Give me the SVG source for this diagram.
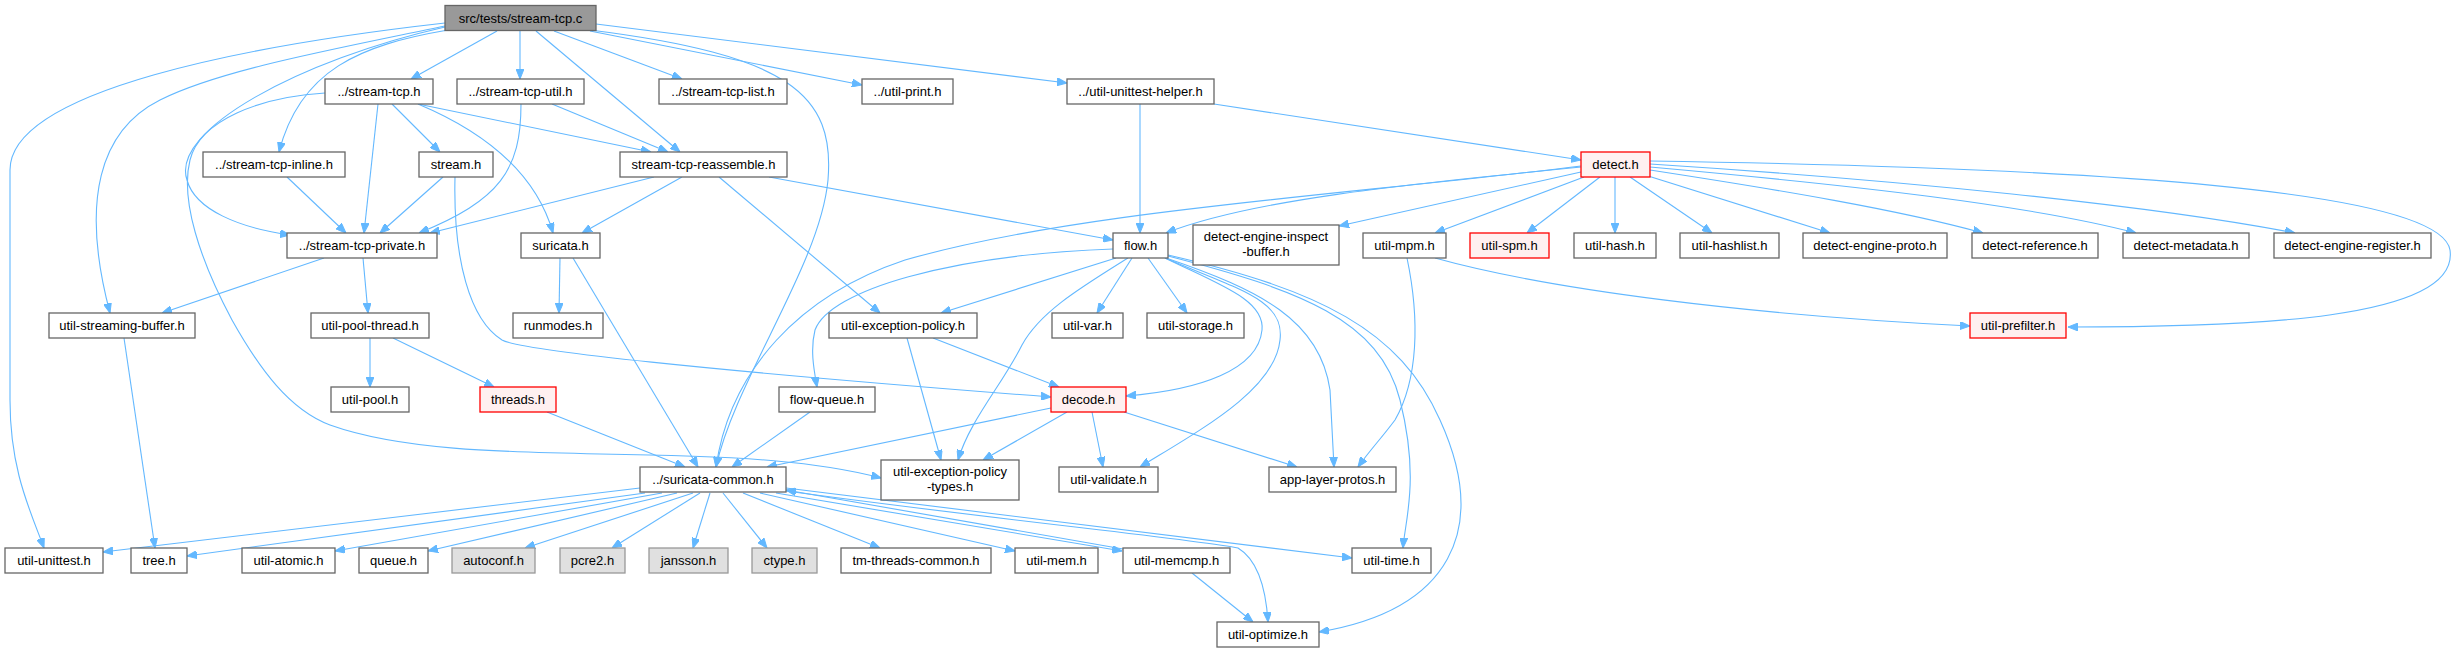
<svg xmlns="http://www.w3.org/2000/svg" width="2458" height="652" viewBox="0 0 2458 652">
<style>
.n rect{fill:#ffffff;stroke:#666666;stroke-width:1.3}
.n.root rect{fill:#999999;stroke:#666666}
.n.ext rect{fill:#e0e0e0;stroke:#999999}
.n.red rect{fill:#fff0f0;stroke:#ff0000}
.n text{font-family:"Liberation Sans",Arial,sans-serif;font-size:13px;fill:#000000;text-anchor:middle}
#edges path{fill:none;stroke:#63b8ff;stroke-width:1.1;marker-end:url(#ah)}
</style>
<defs>
<marker id="ah" markerUnits="userSpaceOnUse" viewBox="0 0 10 8" refX="10" refY="4" markerWidth="10" markerHeight="8" orient="auto">
<path d="M0,0 L10,4 L0,8 z" fill="#63b8ff" stroke="#63b8ff"/>
</marker>
</defs>
<rect width="2458" height="652" fill="#ffffff"/>
<g id="edges">
<!-- root -->
<path d="M497,31 L411,79"/>
<path d="M520,31 L520,79"/>
<path d="M554,31 L682,79"/>
<path d="M590,31 L862,85"/>
<path d="M596,24 L1067,83"/>
<path d="M536,31 L680,152"/>
<path d="M448,30 C360,45 300,70 279,152"/>
<path d="M445,27 C300,60 170,130 187,180 C195,210 240,228 290,235"/>
<path d="M445,26 C330,50 220,70 160,100 C100,130 80,200 110,313"/>
<path d="M445,23 C250,45 10,90 10,170 L10,400 C10,470 30,510 44,548"/>
<path d="M590,30 C790,55 835,95 828,180 C820,265 735,380 716,467"/>
<!-- stream-tcp.h -->
<path d="M392,104 L440,152"/>
<path d="M378,104 L364,233"/>
<path d="M418,104 L651,152"/>
<path d="M418,104 C480,130 535,170 553,233"/>
<path d="M325,93 C260,97 200,120 190,160 C180,200 200,260 232,320 C260,370 290,410 330,425 C400,450 500,452 600,454 C750,456 820,462 881,478"/>
<!-- stream-tcp-util.h -->
<path d="M552,104 L668,152"/>
<path d="M521,104 C521,170 500,200 419,233"/>
<!-- util-unittest-helper.h -->
<path d="M1140,104 L1140,233"/>
<path d="M1214,104 L1581,160"/>
<!-- inline / stream -->
<path d="M287,177 L346,233"/>
<path d="M443,177 L380,233"/>
<path d="M455,177 C453,260 470,320 502,340 C520,350 700,370 1051,397"/>
<!-- reassemble -->
<path d="M654,177 L430,233"/>
<path d="M682,177 L582,233"/>
<path d="M769,177 L1113,240"/>
<path d="M719,177 L880,313"/>
<!-- suricata.h -->
<path d="M560,258 L559,313"/>
<path d="M573,258 L698,467"/>
<!-- private -->
<path d="M324,258 L162,313"/>
<path d="M363,258 L368,313"/>
<!-- streaming buffer -->
<path d="M124,338 L155,548"/>
<!-- pool thread -->
<path d="M370,338 L370,387"/>
<path d="M393,338 L494,387"/>
<!-- threads -->
<path d="M547,412 L685,467"/>
<!-- flow-queue -->
<path d="M810,412 L732,467"/>
<!-- suricata-common -->
<path d="M640,488 C500,505 200,540 103,552"/>
<path d="M645,493 L187,556"/>
<path d="M662,493 L335,551"/>
<path d="M677,493 L428,551"/>
<path d="M693,493 L525,548"/>
<path d="M700,493 L612,548"/>
<path d="M710,493 L693,548"/>
<path d="M723,493 L767,548"/>
<path d="M743,493 L880,548"/>
<path d="M760,493 L1015,551"/>
<path d="M776,493 L1122,551"/>
<path d="M1123,549 L786,490"/>
<path d="M786,488 L1352,558"/>
<path d="M786,491 C1000,520 1200,540 1238,548 C1258,560 1266,590 1268,622"/>
<!-- memcmp -->
<path d="M1192,573 L1253,622"/>
<!-- decode -->
<path d="M1051,408 L767,467"/>
<path d="M1067,412 L983,460"/>
<path d="M1092,412 L1103,467"/>
<path d="M1124,412 L1297,467"/>
<!-- exception policy -->
<path d="M933,338 L1059,387"/>
<path d="M907,338 L941,460"/>
<!-- flow.h -->
<path d="M1116,258 L941,313"/>
<path d="M1132,258 L1097,313"/>
<path d="M1148,258 L1187,313"/>
<path d="M1113,249 C950,255 830,290 815,330 C810,350 814,370 817,387"/>
<path d="M1165,258 C1220,285 1265,300 1262,330 C1258,370 1200,390 1126,396"/>
<path d="M1128,258 C1080,288 1040,312 1022,345 C1002,385 970,420 958,460"/>
<path d="M1165,258 C1240,290 1285,300 1280,340 C1275,390 1200,430 1140,467"/>
<path d="M1166,258 C1260,290 1320,320 1330,390 L1334,467"/>
<path d="M1168,256 C1300,290 1380,320 1400,400 C1420,480 1405,520 1403,548"/>
<path d="M1168,255 C1320,290 1400,330 1440,420 C1490,530 1450,610 1319,632"/>
<!-- detect.h -->
<path d="M1581,166 C1350,195 1080,210 905,260 C800,295 730,370 716,467"/>
<path d="M1581,167 C1400,185 1250,200 1166,233"/>
<path d="M1581,172 L1339,226"/>
<path d="M1584,177 L1435,233"/>
<path d="M1600,177 L1527,233"/>
<path d="M1615,177 L1615,233"/>
<path d="M1630,177 L1712,233"/>
<path d="M1645,175 L1830,233"/>
<path d="M1650,170 C1780,190 1900,210 1983,233"/>
<path d="M1650,167 C1850,185 2030,205 2136,233"/>
<path d="M1650,164 C1900,180 2150,205 2295,233"/>
<path d="M1650,161 C2100,168 2440,190 2450,250 C2460,320 2250,327 2068,327"/>
<!-- util-mpm.h -->
<path d="M1435,258 C1550,290 1750,315 1970,326"/>
<path d="M1407,258 C1420,320 1418,380 1395,420 C1380,440 1370,450 1358,467"/>
</g>
<g id="n_root" class="n root"><rect x="445" y="5.5" width="151" height="25"/><text x="520.5" y="22.5">src/tests/stream-tcp.c</text></g>
<g id="n_stream_tcp" class="n"><rect x="325" y="79" width="108" height="25"/><text x="379" y="96">../stream-tcp.h</text></g>
<g id="n_stream_tcp_util" class="n"><rect x="457" y="79" width="127" height="25"/><text x="520.5" y="96">../stream-tcp-util.h</text></g>
<g id="n_stream_tcp_list" class="n"><rect x="659" y="79" width="128" height="25"/><text x="723" y="96">../stream-tcp-list.h</text></g>
<g id="n_util_print" class="n"><rect x="862" y="79" width="91" height="25"/><text x="907.5" y="96">../util-print.h</text></g>
<g id="n_unittest_helper" class="n"><rect x="1067" y="79" width="147" height="25"/><text x="1140.5" y="96">../util-unittest-helper.h</text></g>
<g id="n_inline" class="n"><rect x="203" y="152" width="142" height="25"/><text x="274" y="169">../stream-tcp-inline.h</text></g>
<g id="n_stream" class="n"><rect x="419" y="152" width="74" height="25"/><text x="456" y="169">stream.h</text></g>
<g id="n_reassemble" class="n"><rect x="620" y="152" width="167" height="25"/><text x="703.5" y="169">stream-tcp-reassemble.h</text></g>
<g id="n_detect" class="n red"><rect x="1581" y="152" width="69" height="25"/><text x="1615.5" y="169">detect.h</text></g>
<g id="n_private" class="n"><rect x="287" y="233" width="150" height="25"/><text x="362" y="250">../stream-tcp-private.h</text></g>
<g id="n_suricata" class="n"><rect x="521" y="233" width="79" height="25"/><text x="560.5" y="250">suricata.h</text></g>
<g id="n_flow" class="n"><rect x="1113" y="233" width="55" height="25"/><text x="1140.5" y="250">flow.h</text></g>
<g id="n_inspect" class="n"><rect x="1193" y="225" width="146" height="40"/><text x="1266" y="241">detect-engine-inspect</text><text x="1266" y="256">-buffer.h</text></g>
<g id="n_mpm" class="n"><rect x="1363" y="233" width="83" height="25"/><text x="1404.5" y="250">util-mpm.h</text></g>
<g id="n_spm" class="n red"><rect x="1470" y="233" width="79" height="25"/><text x="1509.5" y="250">util-spm.h</text></g>
<g id="n_hash" class="n"><rect x="1574" y="233" width="82" height="25"/><text x="1615" y="250">util-hash.h</text></g>
<g id="n_hashlist" class="n"><rect x="1680" y="233" width="99" height="25"/><text x="1729.5" y="250">util-hashlist.h</text></g>
<g id="n_engine_proto" class="n"><rect x="1803" y="233" width="144" height="25"/><text x="1875" y="250">detect-engine-proto.h</text></g>
<g id="n_reference" class="n"><rect x="1972" y="233" width="126" height="25"/><text x="2035" y="250">detect-reference.h</text></g>
<g id="n_metadata" class="n"><rect x="2123" y="233" width="126" height="25"/><text x="2186" y="250">detect-metadata.h</text></g>
<g id="n_register" class="n"><rect x="2274" y="233" width="157" height="25"/><text x="2352.5" y="250">detect-engine-register.h</text></g>
<g id="n_streaming_buffer" class="n"><rect x="49" y="313" width="146" height="25"/><text x="122" y="330">util-streaming-buffer.h</text></g>
<g id="n_pool_thread" class="n"><rect x="311" y="313" width="118" height="25"/><text x="370" y="330">util-pool-thread.h</text></g>
<g id="n_runmodes" class="n"><rect x="513" y="313" width="90" height="25"/><text x="558" y="330">runmodes.h</text></g>
<g id="n_exc_policy" class="n"><rect x="829" y="313" width="148" height="25"/><text x="903" y="330">util-exception-policy.h</text></g>
<g id="n_var" class="n"><rect x="1052" y="313" width="71" height="25"/><text x="1087.5" y="330">util-var.h</text></g>
<g id="n_storage" class="n"><rect x="1147" y="313" width="97" height="25"/><text x="1195.5" y="330">util-storage.h</text></g>
<g id="n_prefilter" class="n red"><rect x="1970" y="313" width="96" height="25"/><text x="2018" y="330">util-prefilter.h</text></g>
<g id="n_pool" class="n"><rect x="331" y="387" width="78" height="25"/><text x="370" y="404">util-pool.h</text></g>
<g id="n_threads" class="n red"><rect x="480" y="387" width="76" height="25"/><text x="518" y="404">threads.h</text></g>
<g id="n_flow_queue" class="n"><rect x="779" y="387" width="96" height="25"/><text x="827" y="404">flow-queue.h</text></g>
<g id="n_decode" class="n red"><rect x="1051" y="387" width="75" height="25"/><text x="1088.5" y="404">decode.h</text></g>
<g id="n_common" class="n"><rect x="640" y="467" width="146" height="25"/><text x="713" y="484">../suricata-common.h</text></g>
<g id="n_exc_types" class="n"><rect x="881" y="460" width="138" height="40"/><text x="950" y="476">util-exception-policy</text><text x="950" y="491">-types.h</text></g>
<g id="n_validate" class="n"><rect x="1059" y="467" width="99" height="25"/><text x="1108.5" y="484">util-validate.h</text></g>
<g id="n_app_layer" class="n"><rect x="1269" y="467" width="127" height="25"/><text x="1332.5" y="484">app-layer-protos.h</text></g>
<g id="n_unittest" class="n"><rect x="5" y="548" width="98" height="25"/><text x="54" y="565">util-unittest.h</text></g>
<g id="n_tree" class="n"><rect x="131" y="548" width="56" height="25"/><text x="159" y="565">tree.h</text></g>
<g id="n_atomic" class="n"><rect x="242" y="548" width="93" height="25"/><text x="288.5" y="565">util-atomic.h</text></g>
<g id="n_queue" class="n"><rect x="359" y="548" width="69" height="25"/><text x="393.5" y="565">queue.h</text></g>
<g id="n_autoconf" class="n ext"><rect x="452" y="548" width="83" height="25"/><text x="493.5" y="565">autoconf.h</text></g>
<g id="n_pcre2" class="n ext"><rect x="560" y="548" width="65" height="25"/><text x="592.5" y="565">pcre2.h</text></g>
<g id="n_jansson" class="n ext"><rect x="649" y="548" width="79" height="25"/><text x="688.5" y="565">jansson.h</text></g>
<g id="n_ctype" class="n ext"><rect x="752" y="548" width="65" height="25"/><text x="784.5" y="565">ctype.h</text></g>
<g id="n_tm_threads" class="n"><rect x="841" y="548" width="150" height="25"/><text x="916" y="565">tm-threads-common.h</text></g>
<g id="n_mem" class="n"><rect x="1015" y="548" width="83" height="25"/><text x="1056.5" y="565">util-mem.h</text></g>
<g id="n_memcmp" class="n"><rect x="1123" y="548" width="107" height="25"/><text x="1176.5" y="565">util-memcmp.h</text></g>
<g id="n_time" class="n"><rect x="1352" y="548" width="79" height="25"/><text x="1391.5" y="565">util-time.h</text></g>
<g id="n_optimize" class="n"><rect x="1217" y="622" width="102" height="25"/><text x="1268" y="639">util-optimize.h</text></g>
</svg>
